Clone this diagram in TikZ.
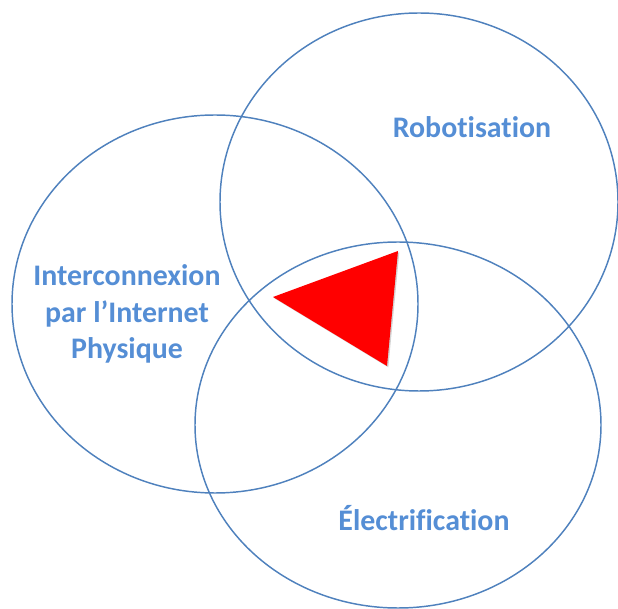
\documentclass[tikz,border=0pt]{standalone}
\usepackage{fontspec}
\setmainfont[Ligatures=NoCommon]{Carlito}
\usetikzlibrary{shadows}
\definecolor{ringblue}{RGB}{79,129,189}
\definecolor{textblue}{RGB}{85,142,213}

\begin{document}
\begin{tikzpicture}[x=0.75pt,y=-0.75pt,
  venn/.style={draw=ringblue,line width=1.1pt},
  vennlabel/.style={text=textblue,font=\bfseries\fontsize{22.4}{27.5}\selectfont,align=center}]
\useasboundingbox (0,0) rectangle (618,609);

\draw[venn] (419,202) ellipse (199 and 189);
\draw[venn] (215,304) ellipse (203 and 189);
\draw[venn] (398,425) ellipse (203 and 183);

\coordinate (tl) at (273,297);
\coordinate (tr) at (398,251);
\coordinate (tb) at (387,366);
\fill[red,drop shadow={opacity=0.35,shadow xshift=1pt,shadow yshift=-1pt}]
 (tl) -- (tr) -- (tb) -- cycle;

\node[vennlabel] (robot) at (472,127) {Robotisation};
\node[vennlabel] (inter) at (127,314) {Interconnexion\\par l'Internet\\Physique};
\node[vennlabel] (elec) at (424,518) {Électrification};
\end{tikzpicture}
\end{document}
